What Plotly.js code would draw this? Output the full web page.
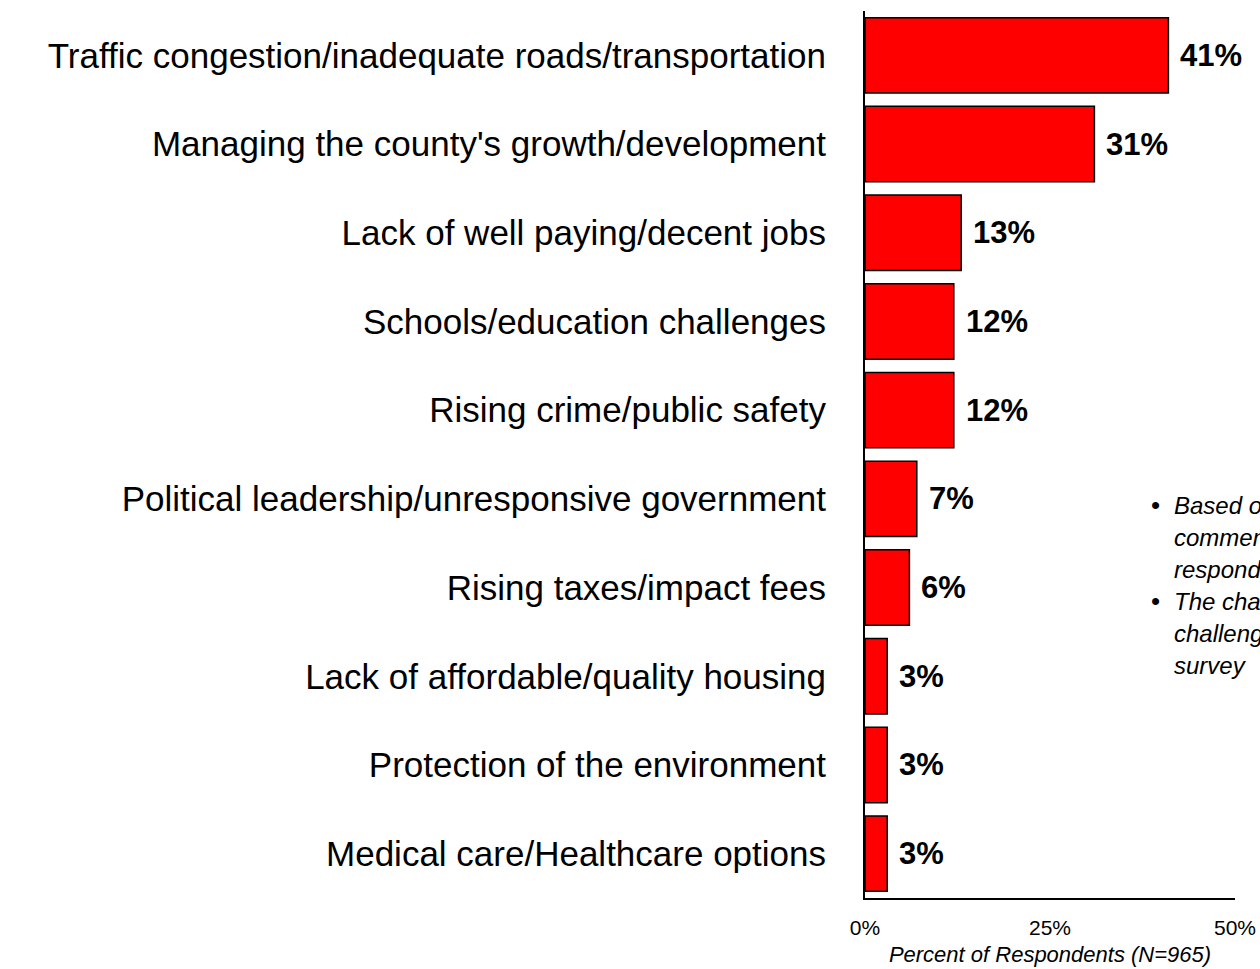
<!DOCTYPE html>
<html>
<head>
<meta charset="utf-8">
<script src="https://cdn.plot.ly/plotly-3.0.1.min.js"></script>
<style>html,body{margin:0;padding:0;background:#fff;}#chart{width:1260px;height:969px;}</style>
</head>
<body>
<div id="chart"></div>
<script>
const categories = [
  "Traffic congestion/inadequate roads/transportation",
  "Managing the county's growth/development",
  "Lack of well paying/decent jobs",
  "Schools/education challenges",
  "Rising crime/public safety",
  "Political leadership/unresponsive government",
  "Rising taxes/impact fees",
  "Lack of affordable/quality housing",
  "Protection of the environment",
  "Medical care/Healthcare options"
];
const values = [41, 31, 13, 12, 12, 7, 6, 3, 3, 3];
const xTickVals = [0, 25, 50];
const xTickText = ["0%", "25%", "50%"];
const notes = [
  "Based on open-ended",
  "comments from survey",
  "respondents",
  "The chart shows the top",
  "challenges cited in the",
  "survey"
];
const bulletLines = [0, 3];

const FONT = "Liberation Sans, Arial, sans-serif";

const trace = {
  type: "bar",
  orientation: "h",
  y: categories,
  x: values,
  marker: {color: "#FF0000", line: {color: "#000000", width: 1.5}},
  width: 0.85,
  hoverinfo: "skip"
};

const annotations = values.map((v, i) => ({
  x: v, y: categories[i], xref: "x", yref: "y",
  text: "<b>" + v + "%</b>", showarrow: false,
  xanchor: "left", yanchor: "middle", xshift: 10,
  font: {family: FONT, size: 31, color: "#000"}
}));

notes.forEach((t, i) => {
  const yy = 506 + i * 32;
  annotations.push({
    xref: "paper", yref: "paper",
    x: (1172 - 865) / 370, y: 1 - (yy - 11) / 888,
    text: "<i>" + t + "</i>", showarrow: false,
    xanchor: "left", yanchor: "middle",
    font: {family: FONT, size: 24, color: "#000"}
  });
  if (bulletLines.includes(i)) {
    annotations.push({
      xref: "paper", yref: "paper",
      x: (1155 - 865) / 370, y: 1 - (yy - 11) / 888,
      text: "•", showarrow: false,
      xanchor: "center", yanchor: "middle",
      font: {family: FONT, size: 26, color: "#000"}
    });
  }
});

const layout = {
  width: 1260, height: 969,
  margin: {l: 865, r: 25, t: 11, b: 71, pad: 0},
  paper_bgcolor: "#ffffff", plot_bgcolor: "#ffffff",
  showlegend: false,
  font: {family: FONT, color: "#000"},
  xaxis: {
    range: [0, 50], tickvals: xTickVals, ticktext: xTickText,
    showgrid: false, zeroline: false,
    showline: true, linecolor: "#000", linewidth: 2,
    ticks: "", ticklabelstandoff: 10,
    tickfont: {family: FONT, size: 21, color: "#000"},
    title: {text: "<i>Percent of Respondents (N=965)</i>", font: {family: FONT, size: 22, color: "#000"}, standoff: 8},
    fixedrange: true
  },
  yaxis: {
    type: "category", autorange: false, range: [9.5, -0.5],
    showgrid: false, zeroline: false,
    showline: true, linecolor: "#000", linewidth: 2,
    ticks: "", ticklabelstandoff: 30,
    tickfont: {family: FONT, size: 35, color: "#000"},
    fixedrange: true
  },
  annotations: annotations
};

Plotly.newPlot("chart", [trace], layout, {displayModeBar: false, staticPlot: true});
</script>
</body>
</html>
